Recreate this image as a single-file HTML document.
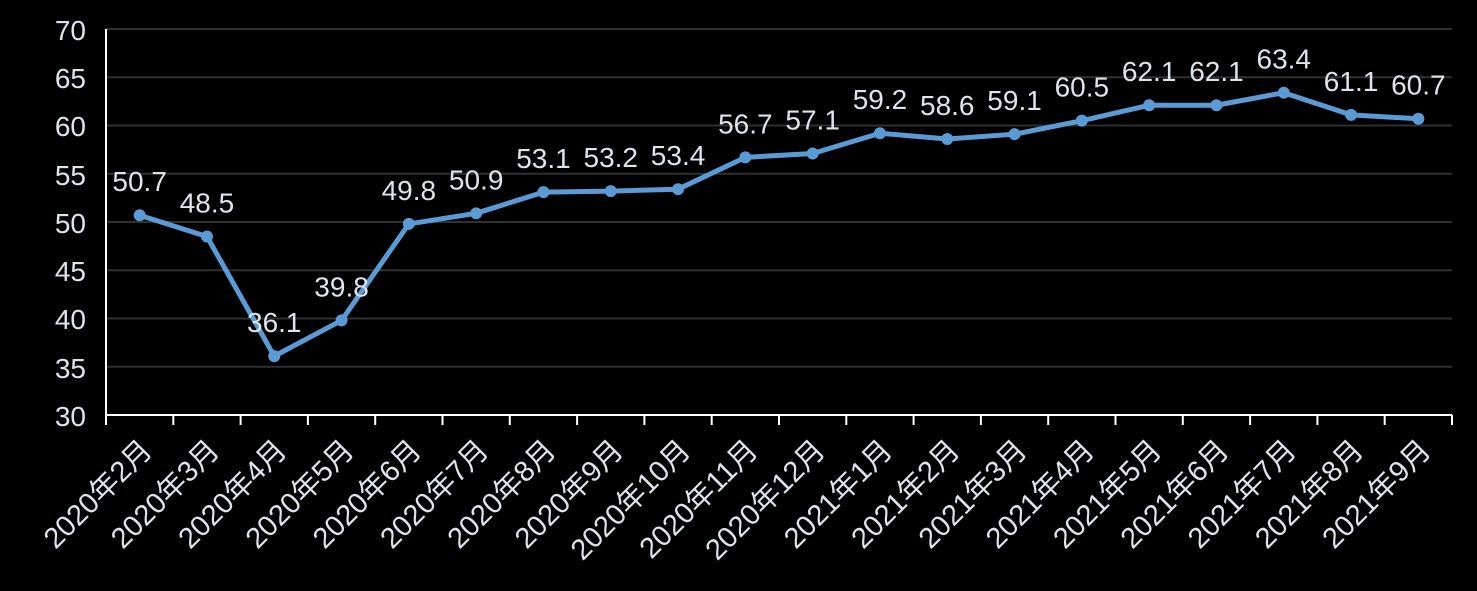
<!DOCTYPE html>
<html><head><meta charset="utf-8"><style>
html,body{margin:0;padding:0;background:#000;}
svg{display:block;font-family:"Liberation Sans","Noto Sans CJK SC",sans-serif;}
</style></head><body>
<svg width="1477" height="591" viewBox="0 0 1477 591" xmlns="http://www.w3.org/2000/svg">
<rect width="1477" height="591" fill="#000"/>
<g stroke="#303030" stroke-width="2">
<line x1="106" x2="1452" y1="29" y2="29"/><line x1="106" x2="1452" y1="77.25" y2="77.25"/>
<line x1="106" x2="1452" y1="125.5" y2="125.5"/><line x1="106" x2="1452" y1="173.75" y2="173.75"/>
<line x1="106" x2="1452" y1="222" y2="222"/><line x1="106" x2="1452" y1="270.25" y2="270.25"/>
<line x1="106" x2="1452" y1="318.5" y2="318.5"/><line x1="106" x2="1452" y1="366.75" y2="366.75"/>
</g>
<g fill="#dde4ee" font-size="28" text-anchor="end">
<text x="86" y="40">70</text><text x="86" y="88">65</text><text x="86" y="136">60</text>
<text x="86" y="185">55</text><text x="86" y="233">50</text><text x="86" y="281">45</text>
<text x="86" y="329">40</text><text x="86" y="378">35</text><text x="86" y="426">30</text>
</g>
<line x1="106" y1="29" x2="106" y2="425" stroke="#fff" stroke-width="2"/>
<line x1="106" y1="415" x2="1452" y2="415" stroke="#fff" stroke-width="2"/>
<g id="ticks" stroke="#fff" stroke-width="2"></g>
<polyline id="line" fill="none" stroke="#5b9bd5" stroke-width="5" stroke-linejoin="round"/>
<g id="dots" fill="#5b9bd5"></g>
<g id="vals" fill="#dde4ee" font-size="28" text-anchor="middle"></g>
<g id="xl" fill="#dde4ee" font-size="29" text-anchor="end"></g>
</svg>
<script>
var v=[50.7,48.5,36.1,39.8,49.8,50.9,53.1,53.2,53.4,56.7,57.1,59.2,58.6,59.1,60.5,62.1,62.1,63.4,61.1,60.7];
var lab=["2020年2月","2020年3月","2020年4月","2020年5月","2020年6月","2020年7月","2020年8月","2020年9月","2020年10月","2020年11月","2020年12月","2021年1月","2021年2月","2021年3月","2021年4月","2021年5月","2021年6月","2021年7月","2021年8月","2021年9月"];
var ns="http://www.w3.org/2000/svg",w=1346/20,pts=[];
function el(t,a,p,txt){var e=document.createElementNS(ns,t);for(var k in a)e.setAttribute(k,a[k]);if(txt)e.textContent=txt;document.getElementById(p).appendChild(e);}
for(var i=0;i<=20;i++){var x=106+i*w;el("line",{x1:x,x2:x,y1:415,y2:425},"ticks");}
for(var i=0;i<20;i++){var x=106+w*(i+0.5),y=415-(v[i]-30)*9.65;pts.push(x+","+y);
el("circle",{cx:x,cy:y,r:6},"dots");
el("text",{x:x,y:y-24},"vals",v[i].toFixed(1));
el("text",{x:0,y:0,transform:"translate("+(x+14)+",452) rotate(-45)"},"xl",lab[i]);}
document.getElementById("line").setAttribute("points",pts.join(" "));
</script>
</body></html>
